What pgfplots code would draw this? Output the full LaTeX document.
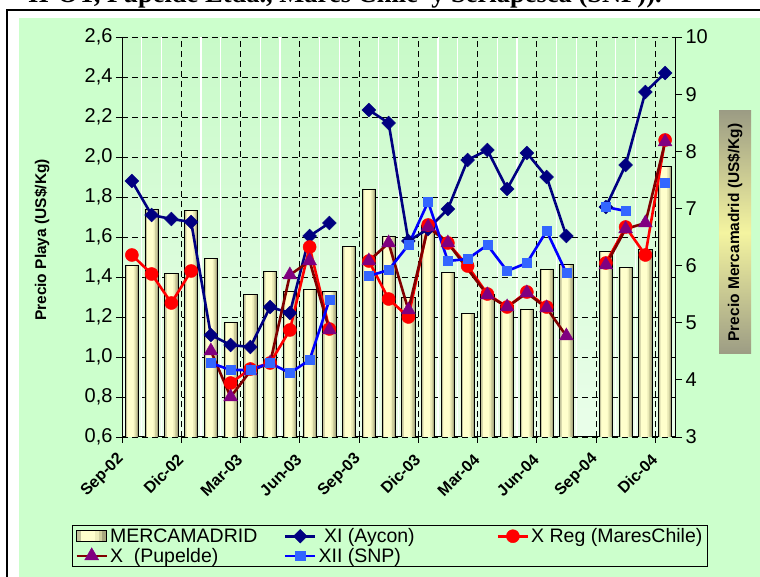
\documentclass[border=0pt]{standalone}
\usepackage{pgfplots}
\usepackage{pgfplotstable}
\pgfplotsset{compat=1.18}
\usepackage{fontspec}
\setmainfont{Liberation Sans}
\newfontfamily\titlefont{Liberation Serif}
\definecolor{bggreen}{HTML}{CCFFCC}
\definecolor{bgtop}{HTML}{C8FAC8}
\definecolor{bgmid}{HTML}{FAFFFA}
\definecolor{bgbot}{HTML}{EAFEEA}
\definecolor{aycon}{HTML}{000080}
\definecolor{mares}{HTML}{FF0000}
\definecolor{pupline}{HTML}{800000}
\definecolor{pupmark}{HTML}{800080}
\definecolor{snpline}{HTML}{0000FF}
\definecolor{snpmark}{HTML}{3366FF}
\definecolor{barc}{HTML}{FFFFCC}
\definecolor{barl}{HTML}{C4C49C}
\definecolor{barr1}{HTML}{EEEEBA}
\definecolor{barr2}{HTML}{D0D09E}
\definecolor{barr3}{HTML}{A8A880}
\definecolor{lbledge}{HTML}{9C9C84}
\definecolor{lblmid}{HTML}{F4F4A0}

\pgfplotstableread{
x y
0.5 6.01
1.5 6.99
2.5 5.86
3.5 6.96
4.5 6.13
5.5 5.0
6.5 5.49
7.5 5.90
8.5 5.55
9.5 5.58
10.5 5.55
11.5 6.33
12.5 7.34
13.5 6.51
14.5 5.44
15.5 6.7
16.5 5.88
17.5 5.16
18.5 5.5
19.5 5.3
20.5 5.24
21.5 5.94
22.5 6.02
24.5 6.24
25.5 5.96
26.5 6.28
27.5 7.73
}\mercamadrid

\begin{document}
\begin{tikzpicture}
\useasboundingbox (0,0) rectangle (760pt,577pt);
\clip (0,0) rectangle (760pt,577pt);
\fill[white] (0,0) rectangle (760pt,577pt);
\fill[bggreen] (19pt,-5pt) rectangle (765pt,559pt);
\draw[black, line width=1.5pt] (7pt,-5pt) -- (7pt,567pt) -- (765pt,567pt);
\node[anchor=base west, font=\titlefont\bfseries\fontsize{26.5}{30}\selectfont, inner sep=0pt] at (28pt,574pt) {II-OT, Pupelde Ltda., Mares Chile\ \ y Seriapesca (SNP)).};

% background, grid, left axis, x axis
\begin{axis}[
  at={(122pt,140pt)}, anchor=south west,
  width=553pt, height=400pt, scale only axis,
  xmin=0, xmax=28, ymin=0.6, ymax=2.6,
  axis background/.style={top color=bgtop, middle color=bgmid, bottom color=bgbot},
  axis x line*=bottom, axis y line*=left,
  axis line style={black, line width=1pt},
  xtick={0,3,6,9,12,15,18,21,24,27},
  xticklabels={Sep-02,Dic-02,Mar-03,Jun-03,Sep-03,Dic-03,Mar-04,Jun-04,Sep-04,Dic-04},
  minor xtick={1,2,4,5,7,8,10,11,13,14,16,17,19,20,22,23,25,26},
  ytick={0.6,0.8,1.0,1.2,1.4,1.6,1.8,2.0,2.2,2.4,2.6},
  xmajorgrids, ymajorgrids, xminorgrids,
  major grid style={black, line width=0.8pt, dash pattern=on 6pt off 4pt},
  minor grid style={white, line width=1.2pt},
  minor tick length=0pt,
  tick align=outside, major tick length=6pt,
  tick style={black, line width=0.8pt},
  /pgf/number format/assume math mode=true,
  yticklabel style={font=\fontsize{20}{24}\selectfont, /pgf/number format/fixed, /pgf/number format/fixed zerofill, /pgf/number format/precision=1, /pgf/number format/use comma},
  xticklabel shift=13pt,
  xticklabel style={rotate=45, anchor=east, inner sep=1pt, font=\bfseries\fontsize{16}{19}\selectfont},
]
\end{axis}

% bars, right axis
\begin{axis}[
  at={(122pt,140pt)}, anchor=south west,
  width=553pt, height=400pt, scale only axis,
  xmin=0, xmax=28, ymin=3, ymax=10,
  axis x line=none, axis y line*=right,
  axis line style={black, line width=1pt},
  ytick={3,4,5,6,7,8,9,10},
  tick align=outside, major tick length=7pt,
  tick style={black, line width=0.8pt},
  /pgf/number format/assume math mode=true,
  yticklabel style={font=\fontsize{20}{24}\selectfont},
]
\addplot[ybar, bar width=13.3pt, bar shift=0pt, draw=none, fill=barc] table[x=x,y=y] {\mercamadrid};
\addplot[ybar, bar width=2pt, bar shift=-5.65pt, draw=none, fill=barl] table[x=x,y=y] {\mercamadrid};
\addplot[ybar, bar width=1.6pt, bar shift=2.8pt, draw=none, fill=barr1] table[x=x,y=y] {\mercamadrid};
\addplot[ybar, bar width=1.5pt, bar shift=4.35pt, draw=none, fill=barr2] table[x=x,y=y] {\mercamadrid};
\addplot[ybar, bar width=1.55pt, bar shift=5.875pt, draw=none, fill=barr3] table[x=x,y=y] {\mercamadrid};
\addplot[ybar, bar width=13.3pt, bar shift=0pt, draw=black, line width=0.8pt, fill=none] table[x=x,y=y] {\mercamadrid};
\end{axis}

% lines
\begin{axis}[
  at={(122pt,140pt)}, anchor=south west,
  width=553pt, height=400pt, scale only axis,
  xmin=0, xmax=28, ymin=0.6, ymax=2.6,
  hide axis, clip=false,
  unbounded coords=jump,
  legend columns=3,
  legend cell align=left,
  legend style={at={(-0.0904,-0.22)}, anchor=north west, draw=black, line width=0.8pt,
    fill=none, font=\fontsize{19.5}{23}\selectfont, inner xsep=3pt, inner ysep=1pt, row sep=0pt},
  legend image code/.code={\draw[mark repeat=2,mark phase=2] plot coordinates {(0pt,0pt) (15pt,0pt) (30pt,0pt)};},
]
\addlegendimage{legend image code/.code={
  \fill[barc] (0pt,-5.5pt) rectangle (30pt,5.5pt);
  \fill[barl] (0pt,-5.5pt) rectangle (4pt,5.5pt);
  \fill[barr1] (19pt,-5.5pt) rectangle (22.5pt,5.5pt);
  \fill[barr2] (22.5pt,-5.5pt) rectangle (26pt,5.5pt);
  \fill[barr3] (26pt,-5.5pt) rectangle (30pt,5.5pt);
  \draw[black, line width=0.6pt] (0pt,-5.5pt) rectangle (30pt,5.5pt);}}
\addlegendentry{\makebox[172pt][l]{MERCAMADRID}}

\addplot[aycon, line width=2.6pt, mark=square*, mark size=4.8pt, mark options={rotate=45, solid, fill=aycon, draw=aycon, line width=0.5pt}] coordinates {
(0.5,1.88)(1.5,1.71)(2.5,1.69)(3.5,1.675)(4.5,1.11)(5.5,1.06)(6.5,1.05)(7.5,1.25)(8.5,1.22)(9.5,1.605)(10.5,1.67)(11.5,nan)
(12.5,2.235)(13.5,2.17)(14.5,1.58)(15.5,1.64)(16.5,1.74)(17.5,1.985)(18.5,2.035)(19.5,1.84)(20.5,2.02)(21.5,1.90)(22.5,1.605)(23.5,nan)
(24.5,1.75)(25.5,1.96)(26.5,2.325)(27.5,2.42)};
\addlegendentry{\makebox[176pt][l]{\ XI (Aycon)}}

\addplot[mares, line width=2.6pt, mark=*, mark size=6.5pt, mark options={solid, fill=mares, draw=mares, line width=0.5pt}] coordinates {
(0.5,1.51)(1.5,1.415)(2.5,1.27)(3.5,1.43)(4.5,nan)(5.5,0.87)(6.5,0.94)(7.5,0.97)(8.5,1.135)(9.5,1.55)(10.5,1.14)(11.5,nan)
(12.5,1.48)(13.5,1.29)(14.5,1.20)(15.5,1.66)(16.5,1.57)(17.5,1.455)(18.5,1.315)(19.5,1.25)(20.5,1.325)(21.5,1.25)(22.5,nan)
(24.5,1.47)(25.5,1.65)(26.5,1.51)(27.5,2.085)};
\addlegendentry{X Reg (MaresChile)}

\addplot[pupline, line width=2.6pt, mark=triangle*, mark size=8pt, mark options={solid, fill=pupmark, draw=pupmark, line width=0.5pt}] coordinates {
(4.5,1.03)(5.5,0.80)(6.5,0.93)(7.5,0.97)(8.5,1.41)(9.5,1.48)(10.5,1.135)(11.5,nan)
(12.5,1.48)(13.5,1.57)(14.5,1.235)(15.5,1.65)(16.5,1.57)(18.5,1.31)(19.5,1.25)(20.5,1.32)(21.5,1.245)(22.5,1.105)(23.5,nan)
(24.5,1.46)(25.5,1.64)(26.5,1.67)(27.5,2.075)};
\addlegendentry{\makebox[172pt][l]{X\ \ (Pupelde)}}

\addplot[snpline, line width=2.6pt, mark=square*, mark size=4.6pt, mark options={solid, fill=snpmark, draw=snpmark, line width=0.5pt}] coordinates {
(4.5,0.97)(5.5,0.935)(6.5,0.935)(7.5,0.97)(8.5,0.92)(9.5,0.985)(10.5,1.285)(11.5,nan)
(12.5,1.405)(13.5,1.435)(14.5,1.56)(15.5,1.775)(16.5,1.48)(17.5,1.49)(18.5,1.56)(19.5,1.43)(20.5,1.47)(21.5,1.63)(22.5,1.42)(23.5,nan)
(24.5,1.75)(25.5,1.73)(26.5,nan)(27.5,1.87)};
\addlegendentry{\makebox[176pt][l]{XII (SNP)}}
\end{axis}

\node[rotate=90, font=\bfseries\fontsize{15.5}{18}\selectfont] at (42pt,337pt) {Precio Playa (US\$/Kg)};
\node[rotate=90, font=\bfseries\fontsize{15.5}{18}\selectfont, top color=lbledge, bottom color=lbledge, middle color=lblmid, minimum width=243pt, minimum height=32pt, inner sep=0pt] at (735pt,344.5pt) {Precio Mercamadrid (US\$/Kg)};
\end{tikzpicture}
\end{document}
